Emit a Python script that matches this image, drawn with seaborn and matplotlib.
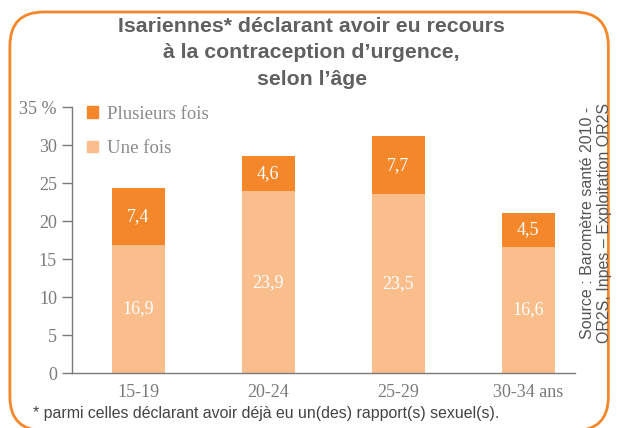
import matplotlib.pyplot as plt
import matplotlib.patches as mpatches
import pandas as pd
import seaborn as sns

# données
ages = ["15-19", "20-24", "25-29", "30-34 ans"]
une_fois = [16.9, 23.9, 23.5, 16.6]
plusieurs_fois = [7.4, 4.6, 7.7, 4.5]
yticks = [0, 5, 10, 15, 20, 25, 30, 35]

fonce = "#F5872B"
clair = "#FABE8C"
gris = "#7A7A7A"

sns.set_style("white")
plt.rcParams["font.family"] = ["Liberation Serif", "DejaVu Serif"]

df = pd.DataFrame({"age": ages, "une": une_fois, "plus": plusieurs_fois})
df["total"] = df["une"] + df["plus"]

fig = plt.figure(figsize=(6.17, 4.28), dpi=100)
ax = fig.add_axes([0.117, 0.1285, 0.815, 0.6215])

# barres empilées : total en foncé, puis "une fois" par-dessus
sns.barplot(data=df, x="age", y="total", color=fonce, width=0.41,
            saturation=1, linewidth=0, ax=ax)
sns.barplot(data=df, x="age", y="une", color=clair, width=0.41,
            saturation=1, linewidth=0, ax=ax)

for i, row in df.iterrows():
    ax.text(i, row["une"] / 2, f"{row['une']:.1f}".replace(".", ","),
            ha="center", va="center", color="white", fontsize=13)
    ax.text(i, row["une"] + row["plus"] / 2,
            f"{row['plus']:.1f}".replace(".", ","),
            ha="center", va="center", color="white", fontsize=13)

ax.set_ylim(0, 35)
ax.set_xlim(-0.508, 3.36)
ax.set_yticks(yticks)
ax.set_yticklabels([str(v) for v in yticks[:-1]] + ["35 %"])
ax.set_xlabel("")
ax.set_ylabel("")
ax.tick_params(axis="y", direction="out", length=7, width=1, color=gris,
               labelcolor=gris, labelsize=13, pad=4, left=True)
ax.tick_params(axis="x", length=0, labelcolor=gris, labelsize=13, pad=8)
for s in ["top", "right"]:
    ax.spines[s].set_visible(False)
for s in ["left", "bottom"]:
    ax.spines[s].set_color(gris)
    ax.spines[s].set_linewidth(1)

handles = [mpatches.Patch(color=fonce, label="Plusieurs fois"),
           mpatches.Patch(color=clair, label="Une fois")]
leg = ax.legend(handles=handles, loc="upper left", frameon=False,
                bbox_to_anchor=(0.03, 1.005), borderaxespad=0, borderpad=0,
                fontsize=13.5, handlelength=0.55, handleheight=0.55,
                labelspacing=0.95, handletextpad=0.5)
for t in leg.get_texts():
    t.set_color("#8A8A8A")

# titre
fig.text(0.505, 0.96, "Isariennes* déclarant avoir eu recours\n"
         "à la contraception d’urgence,\nselon l’âge",
         ha="center", va="top", fontsize=15.3, fontweight="bold",
         color="#606060", family=["Liberation Sans", "DejaVu Sans"],
         linespacing=1.48)

# source
fig.text(0.966, 0.48, "Source : Baromètre santé 2010 -\n"
         "OR2S, Inpes – Exploitation OR2S",
         rotation=90, ha="center", va="center", fontsize=11.5,
         color="#555555", family=["Liberation Sans", "DejaVu Sans"])

# note
fig.text(0.053, 0.035, "* parmi celles déclarant avoir déjà eu un(des) rapport(s) sexuel(s).",
         ha="left", va="center", fontsize=11.4, color="#444444",
         family=["Liberation Sans", "DejaVu Sans"])

# cadre arrondi
cadre = mpatches.FancyBboxPatch((0.016, -0.006), 0.97, 0.978,
                                boxstyle="round,pad=0,rounding_size=0.055",
                                transform=fig.transFigure, fill=False,
                                edgecolor=fonce, linewidth=2,
                                mutation_aspect=617 / 428)
fig.patches.append(cadre)

fig.savefig("out.png", dpi=100)
